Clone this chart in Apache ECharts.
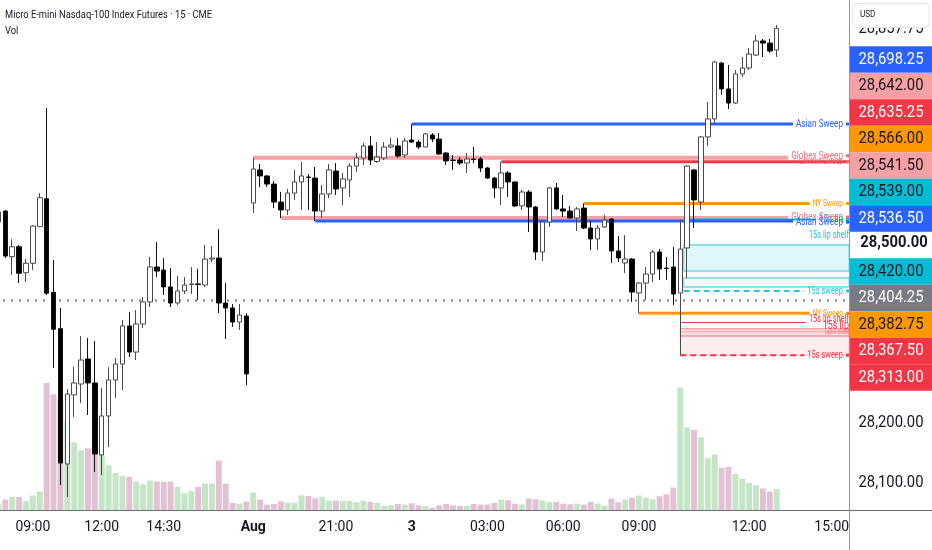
<!DOCTYPE html>
<html>
<head>
<meta charset="utf-8">
<title>Micro E-mini Nasdaq-100 Index Futures · 15 · CME</title>
<script src="https://cdn.jsdelivr.net/npm/echarts@6.0.0/dist/echarts.min.js"></script>
<style>
html,body{margin:0;padding:0;background:#ffffff;}
#chart{width:932px;height:550px;}
</style>
</head>
<body>
<div id="chart"></div>
<script>
// ================= DATA =================
const opens = [28535,28553.25,28477.25,28493.75,28450.5,28466.25,28527.25,28573.75,28417.75,28357.25,
28131.75,28246.75,28265,28306.75,28266.75,28146.75,28211.75,28271.75,28298.25,28361.75,
28318.25,28365,28401.75,28460,28455,28426.75,28400,28420,28430.75,28431.75,
28430,28473.25,28475,28400,28391.75,28368.25,28378.25,28566.75,28621.75,28611.75,
28598.25,28568.25,28555,28583.25,28601.75,28610,28608.25,28553.25,28581.75,28620,
28591.75,28605,28628.25,28641.75,28661.75,28635.75,28641.75,28660,28661.75,28646.75,
28671.75,28668.25,28660,28680,28673.25,28650,28638.25,28638.25,28633.25,28640,
28640,28625,28608.25,28591.75,28616.75,28601.75,28561.75,28585,28560,28485,
28535,28591.75,28556.75,28553.25,28541.75,28558.25,28525,28506.75,28526.75,28540,
28486.75,28466.75,28473.25,28416.75,28433.25,28448.25,28485,28458.25,28460,28416.75,
28491.75,28621.75,28568.25,28676.75,28706.75,28800,28756.75,28733.25,28781.75,28791.75,
28813.25,28836.75,28833.25,28821.75];
const closes = [28551.75,28478.25,28493.75,28449.5,28466.25,28528.25,28575.5,28416.25,28356.25,28133.25,
28248.25,28266.75,28305,28266.75,28148.25,28211.75,28271.75,28298.25,28361.75,28318.25,
28365,28401.75,28460,28453.25,28426.75,28400,28420,28430,28431.75,28431,
28473.25,28475,28400,28391.75,28368.25,28380,28281.75,28623.25,28611.75,28598.25,
28568.25,28555,28583.25,28601.75,28611.75,28609.25,28553.25,28581.75,28621.75,28590,
28606.75,28628.25,28641.75,28661.75,28638.25,28643.25,28660,28663.25,28645,28670,
28668.25,28660,28681.75,28673.25,28648.25,28636.75,28637.5,28633.25,28640,28639.25,
28625,28608.25,28591.75,28616.75,28601.75,28561.75,28585,28560,28485,28535,
28591.75,28556.75,28553.25,28541.75,28556.75,28525,28506.75,28525,28538.25,28486.75,
28475,28473.25,28418.25,28433.25,28448.25,28485,28456.75,28457.5,28415,28490,
28628.25,28571.75,28676.75,28706.75,28801.75,28756.75,28733.25,28781.75,28791.75,28815,
28836.75,28833.25,28820,28857.75];
const highs = [28555,28555,28506.25,28496.75,28473.25,28530,28583.25,28725,28471.75,28391.75,
28256.75,28293.25,28345,28341.75,28336.75,28258.25,28293.25,28308.25,28371.75,28385,
28388.25,28410,28476.75,28501.75,28475,28458.25,28445,28443.25,28460,28456.75,
28496.75,28495,28523.25,28433.25,28398.25,28398.25,28383.25,28642,28631.75,28613.25,
28603.25,28585,28590,28621.75,28635,28615,28626.75,28596.75,28631.75,28633.25,
28616.75,28633.25,28650,28666.75,28678.25,28668.25,28668.25,28675,28675,28675,
28698.25,28671.75,28683.25,28683.25,28683.25,28651.75,28646.75,28643.25,28650,28660,
28643.25,28626.75,28610,28635.25,28620,28601.75,28588.25,28588.25,28561.75,28538.25,
28593.25,28600,28580,28561.75,28560,28566,28536.75,28530,28546.75,28541.75,
28511.75,28513.25,28475,28435,28460,28488.25,28490,28476.75,28493.25,28539,
28630,28623.25,28678.25,28735,28803.25,28801.75,28796.75,28788.25,28810,28825,
28846.75,28840,28840,28863.25];
const lows = [28531.75,28475,28446.75,28433.25,28435,28455,28526.75,28413.25,28291.75,28096.75,
28076.75,28210,28233.25,28213.25,28118.25,28113.25,28160,28241.75,28255,28310,
28305,28358.25,28393.25,28443.25,28413.25,28393.25,28396.75,28415,28415,28405,
28426.75,28468.25,28383.25,28340,28360,28355,28263.25,28550,28593.25,28593.25,
28558.25,28541.5,28546.75,28571.75,28555,28555,28536.5,28541.75,28575,28580,
28563.25,28576.75,28618.25,28630,28630,28633.25,28638.25,28658.25,28641.75,28641.75,
28666.75,28656.75,28660,28668.25,28646.75,28630,28621.75,28630,28616.75,28633.25,
28618.25,28606.75,28575,28563.25,28576.75,28560,28555,28518.25,28471.75,28470,
28526.75,28555,28543.25,28540.75,28520,28523.25,28488.25,28488.25,28525,28466.75,
28468.25,28450,28401.75,28382.75,28405,28435,28438.25,28438.25,28396.75,28313,
28441.75,28525,28555,28661.75,28700,28746.75,28723.25,28731.75,28776.75,28788.25,
28811.75,28810,28816.75,28810];
const volumes = [17,31,39,39,27,43,55,379,345,327,
262,202,178,184,186,164,133,111,102,99,
85,77,88,85,84,85,69,50,57,69,
79,79,147,79,21,19,25,52,31,16,
18,26,22,22,44,42,35,39,28,28,
27,27,23,28,24,21,12,14,18,16,
20,14,12,7,14,18,14,12,12,18,
16,16,21,31,29,19,16,34,32,28,
24,24,19,17,19,16,24,19,13,34,
23,31,36,43,37,32,41,47,67,365,
247,239,217,155,166,126,129,108,93,81,
74,64,55,63];
const futureBars = 10;

// x-axis tick labels (bar index -> text)
const tickBars   = [5, 15, 24, 37, 49, 60, 71, 82, 93, 109, 121];
const tickLabels = ['09:00','12:00','14:30','Aug','21:00','3','03:00','06:00','09:00','12:00','15:00'];
const boldTickLabels = ['Aug', '3'];

// price-scale ticks
const priceTicks = [28100, 28200, 28300, 28400, 28500, 28600, 28700, 28800];
const priceMin = 28055, priceMax = 28905;

// horizontal levels
const levelNames  = ['Asian Sweep','Globex Sweep','London Sweep','NY Sweep','Globex Sweep','15s lip','Asian Sweep',
                     '15s lip shelf','','','','15s sweep','','NY Sweep','15s lip shelf','15s lip','open shelf','','15s sweep'];
const levelPrices = [28698.25,28642.00,28635.25,28566.00,28541.50,28539.00,28536.50,
                     28496.75,28453.25,28441.75,28426.75,28420.00,28404.25,28382.75,28367.50,28357.00,28352.00,28345.00,28313.00];
const levelStarts = [60,37,73,85,41,99.5,46, 99.5,99.5,99.5,99.5,99.5,-0.5,93,99,99,99,99,99];

// shaded zones
const zoneTops    = [28496.75, 28441.75, 28357.00, 28345.00];
const zoneBottoms = [28453.25, 28426.75, 28345.00, 28313.00];
const zoneStarts  = [99.5, 99.5, 99, 99];

// levels that carry a price label on the right scale; anchor = reference (dotted) level
const axisLabelLevels = [0,1,2,3,4,5,6,11,12,13,14,18];
const anchorLevel = 12;

const titleText = 'Micro E-mini Nasdaq-100 Index Futures · 15 · CME';
const volText = 'Vol';
const currencyText = 'USD';

// ================= STYLE / LAYOUT =================
const FONT = 'Roboto';
const TXT = '#131722';
const BLUE='#2962ff', RED='#f23645', PINK='#f7a1a6', PINKTXT='#f5707a', ORANGE='#ff9800',
      CYAN='#00bcd4', CYANL='#6fd6e4', GRAY='#787b86';
const VOL_UP = '#c5e6c6', VOL_DN = '#e3c1d4';
const levelStyles = [
  {c:BLUE, w:3, fs:11},
  {c:PINK, w:4, fs:11, tc:PINKTXT, dy:-2},
  {c:RED, w:3, fs:9, tc:'#f56b74', through:true},
  {c:ORANGE, w:3, fs:9},
  {c:PINK, w:4, fs:11, tc:PINKTXT, dy:-1},
  {c:CYAN, w:2, fs:11},
  {c:BLUE, w:3, fs:11, dy:1},
  {c:CYANL, w:1, fs:10, tc:'#26c6da', dy:-9, through:true, lr:849, mark:false},
  {c:CYANL, w:1},
  {c:CYANL, w:1},
  {c:CYANL, w:1},
  {c:'#26c6da', w:2, fs:10, dash:[6,4]},
  {c:GRAY, w:2, dash:[2,6]},
  {c:ORANGE, w:3, fs:9},
  {c:RED, w:1, fs:10, dy:-3, lr:849, mark:false},
  {c:PINK, w:1, fs:12, tc:RED, dy:-3, through:true, lr:849, mark:false},
  {c:PINK, w:1, fs:7, tc:PINKTXT, through:true, lr:849, mark:false},
  {c:PINK, w:1},
  {c:RED, w:2, fs:10, dash:[6,4]}
];
const zoneStyles = [
  {fill:'rgba(0,188,212,0.13)', stroke:CYANL},
  {fill:'rgba(0,188,212,0.05)', stroke:CYANL},
  {fill:'rgba(242,54,69,0.16)', stroke:'rgba(242,54,69,0.45)'},
  {fill:'rgba(242,54,69,0.09)', stroke:'rgba(242,54,69,0.25)'}
];
const boxStyles = [
  {fill:BLUE, text:'#ffffff'}, {fill:PINK, text:TXT}, {fill:RED, text:'#ffffff'}, {fill:ORANGE, text:TXT},
  {fill:PINK, text:TXT}, {fill:CYAN, text:TXT}, {fill:BLUE, text:'#ffffff'}, {fill:CYAN, text:TXT},
  {fill:GRAY, text:'#ffffff'}, {fill:ORANGE, text:TXT}, {fill:RED, text:'#ffffff'}, {fill:RED, text:'#ffffff'}
];
const PLOT_BOTTOM = 510, AXIS_X = 849, LABEL_RIGHT = 843;
const BOX_H = 26.5, BOX_SHIFT = -2.5, PRICE_CX = 891;

const mctx = document.createElement('canvas').getContext('2d');
function tw(text, font){ mctx.font = font; return mctx.measureText(text).width || text.length * 6; }
const LSX = 47 / tw('Asian Sweep', '11px ' + FONT);       // squeeze for level labels
const PSX = 65 / tw('28,698.25', '17px ' + FONT);         // squeeze for price labels
const TSX = 207 / tw(titleText, '11px ' + FONT);          // squeeze for title
const fmt = p => p.toLocaleString('en-US', {minimumFractionDigits:2, maximumFractionDigits:2});

// ================= CHART =================
const nBars = opens.length + futureBars;
const categories = Array.from({length: nBars}, (_, i) => String(i));
const candleData = opens.map((o, i) => [o, closes[i], lows[i], highs[i]]);
const volumeData = volumes.map((v, i) => ({value: v, itemStyle: {color: closes[i] >= opens[i] ? VOL_UP : VOL_DN}}));

function renderZone(params, api){
  const k = api.value(2);
  const st = zoneStyles[k];
  const band = api.size([1, 0])[0];
  const cs = params.coordSys;
  const t = api.coord([0, zoneTops[k]]);
  const b = api.coord([0, zoneBottoms[k]]);
  const x0 = t[0] + zoneStarts[k] * band;
  const x1 = cs.x + cs.width;
  return {type:'rect', shape:{x:x0, y:t[1], width:x1 - x0, height:b[1] - t[1]},
          style:{fill:st.fill, stroke:st.stroke, lineWidth:1}};
}

function renderLevel(params, api){
  const k = api.value(2);
  const st = levelStyles[k];
  const c0 = api.coord([0, levelPrices[k]]);
  const band = api.size([1, 0])[0];
  const cs = params.coordSys;
  const y = c0[1];
  const x0 = Math.max(cs.x, c0[0] + levelStarts[k] * band);
  let xEnd = cs.x + cs.width;
  const children = [];
  const name = levelNames[k];
  if (name) {
    const font = st.fs + 'px ' + FONT;
    const w = tw(name, font) * LSX;
    const lx = st.lr || LABEL_RIGHT;
    const ly = y + (st.dy || 0);
    if (!st.through) xEnd = lx - w - 3;
    children.push({type:'text', x:lx, y:ly, scaleX:LSX,
      style:{text:name, font:font, fill:st.tc || st.c, align:'right', verticalAlign:'middle'}});
    if (st.mark !== false) children.push({type:'rect', shape:{x:846, y:ly - 1.5, width:3, height:3}, style:{fill:st.tc || st.c}});
  }
  children.unshift({type:'line', shape:{x1:x0, y1:y, x2:xEnd, y2:y},
    style:{stroke:st.c, lineWidth:st.w, lineDash:st.dash || null}});
  return {type:'group', children:children};
}

const chart = echarts.init(document.getElementById('chart'), null, {renderer:'canvas'});
chart.setOption({
  animation: false,
  backgroundColor: '#ffffff',
  grid: {left: -5, right: 83, top: 0, bottom: 40, containLabel: false, outerBoundsMode: 'none'},
  xAxis: {
    type: 'category', data: categories, boundaryGap: true,
    axisLine: {show: false}, axisTick: {show: false}, splitLine: {show: false},
    axisLabel: {
      interval: (idx) => tickBars.indexOf(idx) >= 0,
      formatter: (val, idx) => {
        const k = tickBars.indexOf(idx);
        if (k < 0) return '';
        const t = tickLabels[k];
        return boldTickLabels.indexOf(t) >= 0 ? '{b|' + t + '}' : t;
      },
      fontSize: 14, fontFamily: FONT, color: TXT, margin: 10,
      rich: {b: {fontWeight: 'bold', fontSize: 14, fontFamily: FONT, color: TXT}}
    }
  },
  yAxis: [
    {type:'value', position:'right', min:priceMin, max:priceMax, scale:true,
     axisLine:{show:false}, axisTick:{show:false}, axisLabel:{show:false}, splitLine:{show:false}},
    {type:'value', min:0, max:1522, show:false, splitLine:{show:false}}
  ],
  series: [
    {type:'bar', name:'Vol', yAxisIndex:1, data:volumeData, barWidth:'86%', silent:true},
    {type:'custom', name:'zones', silent:true, renderItem:renderZone, encode:{x:0, y:1},
     data: zoneTops.map((t, k) => [0, t, k])},
    {type:'custom', name:'levels', silent:true, renderItem:renderLevel, encode:{x:0, y:1},
     data: levelPrices.map((p, k) => [0, p, k])},
    {type:'candlestick', name:'MNQ', data:candleData, barWidth:5,
     itemStyle:{color:'#ffffff', color0:'#000000', borderColor:'#4a4a4a', borderColor0:'#111111', borderWidth:1}}
  ]
});

function buildGraphics(){
  const toY = p => chart.convertToPixel({yAxisIndex: 0}, p);
  const g = [];
  // title
  g.push({type:'text', x:5, y:15, scaleX:TSX, z:50,
          style:{text:titleText, font:'11px ' + FONT, fill:TXT, align:'left', verticalAlign:'middle'}});
  g.push({type:'text', x:5, y:31.5, scaleX:TSX, z:50,
          style:{text:volText, font:'11px ' + FONT, fill:TXT, align:'left', verticalAlign:'middle'}});
  // price-label layout (stack around the anchor level)
  const nat = axisLabelLevels.map(k => toY(levelPrices[k]));
  const a = axisLabelLevels.indexOf(anchorLevel);
  const pos = nat.slice();
  for (let j = a - 1; j >= 0; j--) pos[j] = Math.min(nat[j], pos[j + 1] - BOX_H);
  for (let j = a + 1; j < pos.length; j++) pos[j] = Math.max(nat[j], pos[j - 1] + BOX_H);
  const centers = pos.map(v => v + BOX_SHIFT);
  // axis tick labels (hidden where a price box sits)
  priceTicks.forEach(p => {
    const y = toY(p);
    const covered = centers.some(c => Math.abs(c - y) < BOX_H / 2 + 7);
    if (covered) return;
    const bold = p % 500 === 0;
    g.push({type:'text', x:PRICE_CX + (bold ? 3 : 0), y:y, scaleX:PSX, z:10,
            style:{text:fmt(p), font:(bold ? 'bold ' : '') + '17px ' + FONT, fill:TXT, align:'center', verticalAlign:'middle'}});
  });
  // last price (partly under the currency button)
  const last = closes[closes.length - 1];
  g.push({type:'text', x:PRICE_CX, y:toY(last), scaleX:PSX, z:10,
          style:{text:fmt(last), font:'17px ' + FONT, fill:TXT, align:'center', verticalAlign:'middle'}});
  // price boxes
  axisLabelLevels.forEach((k, j) => {
    const st = boxStyles[j];
    g.push({type:'rect', z:20, shape:{x:850, y:centers[j] - BOX_H / 2, width:82, height:BOX_H}, style:{fill:st.fill}});
    g.push({type:'text', z:21, x:PRICE_CX, y:centers[j], scaleX:PSX,
            style:{text:fmt(levelPrices[k]), font:'17px ' + FONT, fill:st.text, align:'center', verticalAlign:'middle'}});
  });
  // currency button
  g.push({type:'rect', z:30, shape:{x:853, y:3.5, width:76, height:24, r:4},
          style:{fill:'#ffffff', stroke:'#e0e3eb', lineWidth:1}});
  g.push({type:'text', z:31, x:860, y:15, scaleX:0.9,
          style:{text:currencyText, font:'9px ' + FONT, fill:TXT, align:'left', verticalAlign:'middle'}});
  // separators
  g.push({type:'line', z:40, shape:{x1:0, y1:PLOT_BOTTOM + 0.5, x2:932, y2:PLOT_BOTTOM + 0.5}, style:{stroke:'#6a6d78', lineWidth:1}});
  g.push({type:'line', z:40, shape:{x1:AXIS_X + 0.5, y1:0, x2:AXIS_X + 0.5, y2:550}, style:{stroke:'#9598a1', lineWidth:1}});
  return g;
}
chart.setOption({graphic: buildGraphics()});
</script>
</body>
</html>
